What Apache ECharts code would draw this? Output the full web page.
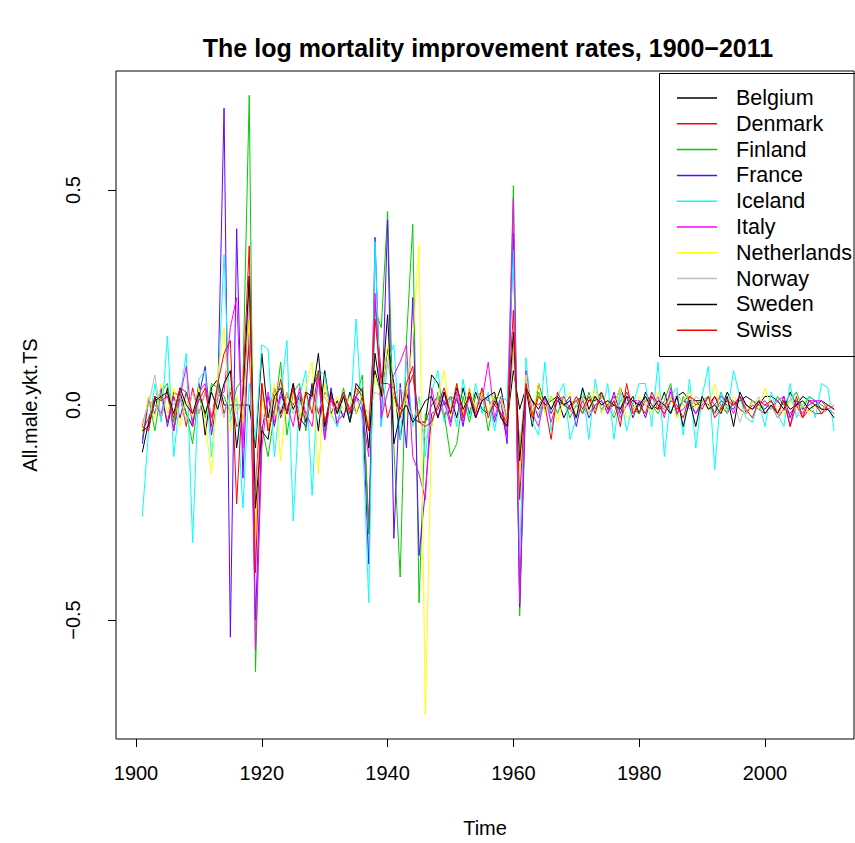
<!DOCTYPE html>
<html>
<head>
<meta charset="utf-8">
<script src="https://cdn.jsdelivr.net/npm/echarts@6/dist/echarts.min.js"></script>
<style>
html,body{margin:0;padding:0;background:#fff;}
#chart{width:855px;height:843px;}
</style>
</head>
<body>
<div id="chart"></div>
<script>
// ---- data ----
var years = [];
for (var y = 1901; y <= 2011; y++) years.push(y);

var countries = ["Belgium","Denmark","Finland","France","Iceland","Italy","Netherlands","Norway","Sweden","Swiss"];
var colors = ["#000000","#FF0000","#00CD00","#6600FF","#00FFFF","#FF00FF","#FFFF00","#BEBEBE","#000000","#FF0000"];

var belgium = [
-0.11,-0.04,0.02,-0.03,0.04,-0.06,0.03,-0.02,-0.05,0.05,
-0.07,0.04,0.06,0.0,0.0,0.0,0.0,0.0,-0.10,0.12,
-0.03,0.04,-0.02,0.03,-0.01,0.02,-0.04,0.05,-0.06,0.08,
-0.02,0.01,-0.03,0.03,-0.02,0.02,-0.06,0.08,0.02,0.13,
0.05,-0.08,0.03,-0.03,-0.04,-0.04,0.07,0.05,0.0,0.02,
-0.03,0.04,-0.02,0.03,-0.01,-0.02,0.0,0.04,-0.04,0.08,
-0.01,0.04,-0.05,0.05,0.0,0.01,0.02,-0.03,0.0,0.01,
0.02,0.01,0.01,0.03,-0.01,0.0,0.04,0.0,0.02,-0.02,
0.03,0.0,-0.01,0.03,-0.02,0.02,0.03,0.01,0.01,0.01,
0.0,0.02,-0.01,0.03,0.0,0.01,0.02,0.01,0.0,0.02,
0.02,0.01,-0.01,0.03,0.0,0.02,0.01,0.0,0.01,0.0,
-0.01];
var denmark = [
-0.06,-0.03,0.01,0.02,-0.04,0.03,0.02,-0.05,0.04,-0.02,
0.03,-0.03,0.05,-0.02,0.03,-0.05,-0.03,0.14,-0.20,0.05,
-0.06,0.04,-0.03,0.02,0.0,0.03,-0.03,0.04,-0.02,0.03,
0.01,-0.02,0.03,-0.01,0.02,0.04,-0.28,0.24,0.07,-0.03,
0.02,-0.01,0.03,0.07,-0.04,-0.04,0.0,0.02,-0.03,0.02,
0.01,-0.02,0.03,-0.01,0.02,0.01,0.0,-0.02,-0.07,0.15,
-0.10,0.03,0.01,0.0,0.02,-0.01,0.02,0.0,-0.01,0.01,
-0.02,0.01,0.02,-0.01,0.0,0.02,-0.01,0.03,0.0,-0.02,
0.01,0.02,-0.01,0.0,0.02,-0.01,0.01,0.02,0.0,0.01,
-0.01,0.02,0.0,-0.02,0.01,-0.01,-0.02,0.0,-0.01,-0.02,
0.0,-0.03,-0.01,-0.02,0.0,-0.03,-0.01,-0.02,-0.02,-0.01,
-0.02];
var finland = [
-0.08,0.02,-0.06,0.03,0.05,-0.04,0.02,-0.02,-0.09,0.03,
-0.03,0.05,0.04,0.02,-0.02,0.04,0.06,0.72,-0.62,-0.05,
-0.12,-0.02,0.10,-0.07,0.03,0.05,-0.06,0.04,0.08,-0.06,
0.02,-0.02,0.04,-0.04,0.02,0.07,-0.30,0.22,0.18,0.45,
-0.10,-0.40,0.15,0.42,-0.46,-0.02,-0.05,0.03,-0.02,-0.12,
-0.09,0.02,-0.04,0.02,0.03,-0.06,0.02,-0.02,-0.05,0.51,
-0.49,0.05,-0.02,0.03,-0.01,0.02,-0.02,0.02,-0.03,0.0,
-0.02,0.03,-0.01,0.02,0.0,-0.03,0.01,0.02,-0.01,-0.02,
0.02,0.0,-0.02,0.01,0.05,-0.03,0.02,-0.01,0.0,0.01,
0.02,-0.02,0.03,-0.01,0.0,0.02,-0.02,0.01,-0.01,0.0,
-0.01,0.02,0.0,0.01,0.03,-0.01,0.02,0.01,0.0,-0.01,
-0.02];
var france = [
-0.09,0.01,-0.02,0.04,-0.05,0.02,-0.03,0.03,-0.04,0.02,
0.09,-0.07,0.02,0.69,-0.54,0.41,-0.17,0.20,-0.50,-0.06,
0.02,-0.05,0.03,-0.02,0.05,-0.03,-0.05,0.04,0.07,-0.08,
0.04,-0.05,0.03,-0.04,0.02,0.0,-0.37,0.39,-0.05,0.43,
-0.31,0.05,-0.10,0.25,-0.35,-0.20,-0.02,-0.01,0.03,-0.04,
0.02,-0.05,0.04,-0.03,0.01,0.02,-0.04,0.01,-0.09,0.40,
-0.47,0.03,0.01,-0.03,0.02,-0.02,0.01,0.0,0.02,-0.05,
0.02,-0.03,0.0,0.01,-0.02,0.03,-0.02,0.02,-0.03,0.01,
-0.03,0.02,0.0,-0.01,0.03,-0.02,0.01,0.0,-0.02,0.01,
0.0,-0.02,0.01,0.0,-0.01,0.02,-0.02,0.01,0.0,-0.01,
0.01,-0.02,0.02,-0.03,0.01,-0.01,0.0,0.01,-0.01,0.0,
-0.01];
var iceland = [
-0.26,-0.06,0.05,-0.04,0.16,-0.12,0.02,0.12,-0.32,0.06,
0.08,-0.12,0.03,0.35,-0.04,0.02,-0.24,0.05,-0.08,0.14,
0.13,-0.12,0.02,0.15,-0.27,0.02,0.08,-0.21,0.08,0.07,
-0.02,-0.05,0.03,-0.04,0.20,-0.05,-0.46,0.38,-0.05,0.10,
0.14,-0.08,0.10,-0.05,0.02,-0.12,0.03,0.08,-0.04,0.02,
-0.05,0.06,-0.03,0.05,-0.02,0.03,-0.06,0.02,0.01,0.36,
-0.35,0.11,-0.04,-0.07,0.10,-0.06,0.02,0.05,-0.08,-0.03,
0.04,-0.08,0.06,-0.02,0.05,-0.08,0.03,-0.06,0.0,0.05,
0.05,-0.05,0.10,-0.12,0.02,0.04,-0.07,0.06,-0.10,0.02,
0.09,-0.15,0.03,-0.02,0.08,0.02,-0.03,-0.04,0.01,-0.05,
0.03,-0.02,-0.05,0.05,-0.03,0.0,0.02,-0.03,0.05,0.04,
-0.06];
var italy = [
-0.05,0.01,0.0,-0.02,0.03,-0.06,0.02,0.09,-0.05,0.03,
0.05,-0.03,0.02,0.03,0.18,0.25,-0.10,0.30,-0.57,-0.10,
0.03,-0.04,0.02,0.0,-0.05,0.04,-0.02,-0.05,0.06,-0.08,
0.02,-0.04,-0.02,-0.01,0.02,-0.02,-0.12,0.26,-0.03,0.03,
0.07,0.10,0.14,-0.12,-0.16,-0.22,0.04,-0.03,0.01,-0.05,
0.03,-0.04,0.02,-0.03,0.01,0.10,-0.03,0.02,-0.07,0.48,
-0.46,0.08,-0.02,-0.05,0.02,-0.04,0.01,0.02,-0.01,-0.03,
0.01,-0.02,0.0,0.01,-0.02,0.01,-0.03,0.0,0.01,0.01,
0.0,-0.01,0.02,-0.03,0.04,-0.02,-0.01,0.01,-0.02,0.0,
0.02,0.0,0.02,0.01,-0.02,0.02,0.0,-0.01,0.0,0.01,
-0.01,0.01,0.02,-0.05,0.0,-0.02,0.01,0.01,0.01,-0.01,
0.0];
var netherlands = [
-0.06,0.02,-0.03,0.05,-0.02,0.04,-0.05,0.02,-0.03,0.04,
-0.04,-0.16,0.07,0.18,-0.06,0.02,-0.04,0.20,-0.30,0.02,
-0.06,0.05,-0.13,0.03,0.02,-0.03,0.04,0.10,-0.16,0.05,
-0.03,0.02,-0.01,0.02,-0.02,0.03,-0.05,0.07,0.02,0.14,
0.01,-0.03,0.02,0.15,0.37,-0.72,-0.05,0.02,0.08,-0.03,
0.05,-0.02,0.04,-0.01,0.03,-0.02,0.03,0.01,-0.04,0.15,
-0.15,0.07,-0.03,0.05,-0.02,0.02,-0.04,0.01,0.03,-0.03,
0.02,-0.02,0.04,-0.02,0.01,0.0,0.04,-0.03,-0.02,0.02,
0.0,-0.02,0.03,-0.01,0.02,-0.03,0.01,0.03,-0.01,0.01,
-0.01,0.05,-0.02,0.0,0.02,0.0,-0.02,0.01,-0.01,0.04,
-0.01,0.0,-0.02,0.01,-0.01,0.0,-0.02,0.0,-0.01,0.0,
0.0];
var norway = [
-0.04,0.0,0.07,-0.03,0.03,0.0,0.02,-0.04,0.03,-0.02,
0.03,-0.02,0.02,-0.03,0.04,-0.02,0.02,0.25,-0.20,-0.02,
-0.04,0.02,-0.01,0.03,-0.02,0.01,-0.03,0.02,-0.01,0.02,
-0.01,0.0,0.02,-0.02,0.01,0.0,-0.02,0.03,0.02,0.10,
0.02,0.04,0.01,-0.03,-0.01,-0.08,-0.04,0.02,-0.02,0.0,
0.02,-0.01,0.01,0.0,0.02,-0.02,0.01,0.02,-0.03,0.12,
-0.10,0.06,0.0,-0.02,0.02,-0.01,0.02,0.0,-0.01,0.01,
0.0,-0.01,0.02,0.0,0.01,-0.02,0.03,0.0,-0.01,0.01,
0.01,-0.01,0.02,0.0,-0.02,0.03,0.0,-0.01,0.02,0.01,
0.0,-0.02,-0.01,0.02,0.01,-0.04,0.0,-0.01,0.02,-0.02,
0.0,-0.03,0.01,0.02,-0.02,-0.03,0.01,0.0,-0.02,-0.01,
-0.02];
var sweden = [
-0.06,-0.05,0.01,0.02,0.03,-0.02,0.04,0.0,-0.02,0.03,
-0.02,0.03,-0.01,0.05,0.08,-0.10,0.02,0.30,-0.24,-0.06,
-0.08,0.02,0.04,-0.02,0.05,-0.06,0.03,0.02,0.12,-0.05,
0.03,-0.02,0.02,-0.04,0.05,0.03,-0.10,0.12,0.02,0.21,
-0.09,-0.02,0.0,-0.04,-0.02,0.01,0.02,-0.03,0.03,-0.02,
0.04,-0.01,0.02,-0.03,0.01,0.02,0.03,-0.03,-0.05,0.17,
-0.13,0.04,0.01,-0.01,0.02,-0.01,0.02,0.0,0.01,-0.03,
0.04,-0.01,0.02,0.0,0.01,0.0,-0.01,0.02,0.01,0.0,
0.02,-0.01,0.01,0.0,-0.02,0.02,-0.05,0.01,-0.05,0.02,
-0.01,0.0,-0.02,0.02,-0.05,0.03,0.0,-0.01,0.01,-0.02,
0.0,-0.02,0.01,-0.01,0.0,0.01,-0.01,0.0,-0.01,-0.01,
-0.03];
var swiss = [
-0.05,-0.06,0.02,0.01,0.02,-0.03,0.04,0.03,-0.02,0.01,
0.04,-0.05,0.05,0.12,0.15,-0.23,0.04,0.37,-0.39,0.05,
-0.06,-0.01,0.06,-0.02,0.04,-0.05,0.03,-0.02,0.08,-0.04,
0.02,-0.01,0.03,-0.02,0.04,0.02,-0.06,0.20,0.05,0.05,
0.04,-0.03,0.05,0.09,-0.04,-0.05,-0.04,0.0,0.04,-0.02,
0.05,-0.03,0.03,-0.02,0.04,-0.03,0.01,-0.02,-0.04,0.22,
-0.22,0.05,-0.03,0.02,0.0,-0.08,0.03,0.0,-0.01,0.02,
-0.01,0.02,-0.02,0.03,-0.01,0.01,-0.05,0.05,-0.02,0.0,
-0.02,0.03,0.0,-0.02,0.01,0.0,-0.03,0.02,0.01,-0.01,
0.02,-0.03,-0.01,0.01,0.0,0.02,-0.01,-0.03,0.01,0.0,
0.01,-0.02,0.01,-0.05,0.02,-0.03,0.01,0.0,-0.02,0.0,
-0.01];

var xTicks = [1900, 1920, 1940, 1960, 1980, 2000];
var yTicks = [-0.5, 0, 0.5];
var allValues = [belgium, denmark, finland, france, iceland, italy, netherlands, norway, sweden, swiss];

// ---- chart ----
var FONT = "Liberation Sans, Arial, Helvetica, sans-serif";
var chart = echarts.init(document.getElementById('chart'), null, {renderer: 'svg'});

var series = countries.map(function (name, i) {
  return {
    name: name,
    type: 'line',
    symbol: 'none',
    showSymbol: false,
    color: colors[i],
    lineStyle: {width: 1, color: colors[i]},
    data: years.map(function (yr, j) { return [yr, allValues[i][j]]; }),
    animation: false,
    z: 2 + i
  };
});

function yFmt(v) {
  if (Math.abs(v) < 1e-9) return '0.0';
  var s = Math.abs(v).toFixed(1);
  return (v < 0 ? '\u2212' : '') + s;
}

chart.setOption({
  backgroundColor: '#ffffff',
  animation: false,
  title: {
    text: 'The log mortality improvement rates, 1900\u22122011',
    left: 483, top: 30, textAlign: 'center',
    textStyle: {fontFamily: FONT, fontSize: 25, fontWeight: 'bold', color: '#000'}
  },
  grid: {left: 116, top: 71, width: 738, height: 668, show: true, borderColor: '#000', borderWidth: 1,
         backgroundColor: 'transparent', containLabel: false, outerBoundsMode: 'none'},
  xAxis: {
    type: 'value', min: 1896.82, max: 2014.15,
    name: 'Time', nameLocation: 'middle', nameGap: 79,
    nameTextStyle: {fontFamily: FONT, fontSize: 20, color: '#000'},
    axisLine: {show: false, onZero: false},
    splitLine: {show: false},
    axisTick: {show: true, length: 8, lineStyle: {color: '#000', width: 1}, customValues: xTicks},
    axisLabel: {fontFamily: FONT, fontSize: 20, color: '#000', margin: 24, customValues: xTicks, formatter: function (v) { return String(v); }}
  },
  yAxis: {
    type: 'value', min: -0.7767, max: 0.7767,
    name: 'All.male.ykt.TS', nameLocation: 'middle', nameGap: 76, nameRotate: 90,
    nameTextStyle: {fontFamily: FONT, fontSize: 20, color: '#000'},
    axisLine: {show: false, onZero: false},
    splitLine: {show: false},
    axisTick: {show: true, length: 8, lineStyle: {color: '#000', width: 1}, customValues: yTicks},
    axisLabel: {fontFamily: FONT, fontSize: 20, color: '#000', rotate: 90, margin: 33, customValues: yTicks, formatter: yFmt}
  },
  legend: {
    orient: 'vertical', left: 677, top: 87, padding: 0,
    itemWidth: 40, itemHeight: 1.5, icon: 'rect', itemGap: 3.8,
    selectedMode: false,
    textStyle: {fontFamily: FONT, fontSize: 21.5, color: '#000', padding: [0, 0, 0, 14]},
    data: countries.map(function (n, i) { return {name: n, itemStyle: {color: colors[i]}}; })
  },
  graphic: [{
    type: 'rect', left: 657, top: 71, z: 100, silent: true,
    shape: {width: 197, height: 283},
    style: {fill: 'none', stroke: '#000', lineWidth: 1}
  }],
  series: series
});
</script>
</body>
</html>
